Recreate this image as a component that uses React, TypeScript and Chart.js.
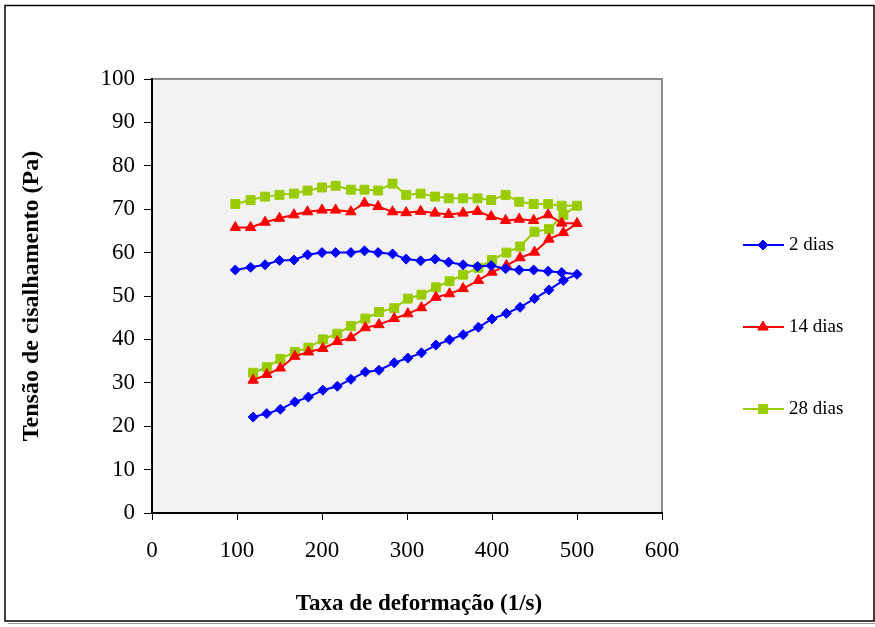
import React, { useEffect, useRef } from 'react';
import { Chart, registerables } from 'chart.js';

Chart.register(...registerables);

// Shear rate (1/s): ascending branch, then descending branch
const rateUp = [119, 135, 151, 168, 184, 201, 218, 234, 251, 267, 285, 301, 317, 334, 350, 366, 384, 400, 417, 433, 450, 467, 484, 500];
const rateDown = [482, 466, 449, 432, 416, 399, 383, 366, 349, 333, 316, 299, 283, 266, 250, 234, 216, 200, 183, 167, 150, 133, 116, 98];

// Shear stress (Pa)
const dias2Up = [22.1, 22.9, 23.9, 25.6, 26.7, 28.3, 29.2, 30.8, 32.5, 32.9, 34.6, 35.7, 36.9, 38.7, 39.9, 41.1, 42.8, 44.7, 46.0, 47.4, 49.4, 51.4, 53.6, 55.0];
const dias2Down = [55.4, 55.7, 56.0, 56.0, 56.3, 57.0, 56.8, 57.2, 57.8, 58.5, 58.1, 58.5, 59.7, 60.0, 60.4, 60.0, 60.0, 60.0, 59.5, 58.3, 58.2, 57.2, 56.6, 56.0];

const dias14Up = [30.6, 31.9, 33.4, 36.1, 37.1, 37.9, 39.5, 40.4, 42.7, 43.4, 44.8, 45.9, 47.3, 49.7, 50.5, 51.7, 53.6, 55.5, 57.0, 58.8, 60.1, 63.1, 64.6, 66.7];
const dias14Down = [66.8, 68.7, 67.4, 67.7, 67.4, 68.3, 69.5, 69.1, 68.8, 69.1, 69.5, 69.2, 69.4, 70.6, 71.4, 69.4, 69.8, 69.8, 69.4, 68.7, 67.9, 67.0, 65.8, 65.8];

const dias28Up = [32.3, 33.6, 35.5, 37.1, 38.1, 40.0, 41.3, 43.1, 44.8, 46.3, 47.2, 49.4, 50.3, 52.0, 53.4, 54.9, 56.5, 58.3, 60.0, 61.4, 64.8, 65.4, 68.7, 70.8];
const dias28Down = [70.8, 71.2, 71.2, 71.7, 73.3, 72.1, 72.5, 72.5, 72.5, 72.9, 73.6, 73.3, 75.9, 74.3, 74.5, 74.5, 75.4, 75.0, 74.3, 73.6, 73.3, 72.9, 72.1, 71.2];

const seriesNames = ['2 dias', '14 dias', '28 dias'];
const seriesColors = ['#0000FF', '#FF0000', '#99CC00'];
const seriesMarkers = ['rectRot', 'triangle', 'rect'];
const seriesRadius = [5, 6, 6.3];

const xTitle = 'Taxa de deformação (1/s)';
const yTitle = 'Tensão de cisalhamento (Pa)';

const FONT = "'Times New Roman', 'Liberation Serif', serif";

function loop(up: number[], down: number[]) {
  return rateUp.map((x, i) => ({ x, y: up[i] })).concat(rateDown.map((x, i) => ({ x, y: down[i] })));
}

function drawMarker(ctx: CanvasRenderingContext2D, style: string, x: number, y: number, r: number, color: string) {
  ctx.save();
  ctx.fillStyle = color;
  ctx.strokeStyle = color;
  ctx.lineWidth = 1;
  ctx.beginPath();
  if (style === 'rectRot') {
    ctx.moveTo(x - r, y);
    ctx.lineTo(x, y - r);
    ctx.lineTo(x + r, y);
    ctx.lineTo(x, y + r);
  } else if (style === 'triangle') {
    for (let k = 0; k < 3; k++) {
      const a = (k * 2 * Math.PI) / 3;
      const px = x + Math.sin(a) * r;
      const py = y - Math.cos(a) * r;
      if (k === 0) ctx.moveTo(px, py);
      else ctx.lineTo(px, py);
    }
  } else {
    const s = r * Math.SQRT1_2;
    ctx.rect(x - s, y - s, 2 * s, 2 * s);
  }
  ctx.closePath();
  ctx.fill();
  ctx.stroke();
  ctx.restore();
}

const framePlugin = {
  id: 'frame',
  beforeDraw(chart: any) {
    const { ctx, chartArea } = chart;
    const { left, top, right, bottom } = chartArea;
    ctx.save();
    ctx.fillStyle = '#FFFFFF';
    ctx.fillRect(0, 0, chart.width, chart.height);
    // outer border with shadow
    ctx.strokeStyle = '#9A9A9A';
    ctx.lineWidth = 1;
    ctx.beginPath();
    ctx.moveTo(8, 623.5);
    ctx.lineTo(875, 623.5);
    ctx.stroke();
    ctx.strokeStyle = '#000000';
    ctx.lineWidth = 1.5;
    ctx.strokeRect(5, 5.5, 869, 615.5);
    // plot area
    ctx.fillStyle = '#F2F2F2';
    ctx.fillRect(left, top, right - left, bottom - top);
    ctx.strokeStyle = '#8C8C8C';
    ctx.lineWidth = 2;
    ctx.strokeRect(left, top, right - left, bottom - top);
    ctx.restore();
  },
  afterDraw(chart: any) {
    const { ctx } = chart;
    ctx.save();
    // x axis title
    ctx.fillStyle = '#000';
    ctx.font = `bold 23px ${FONT}`;
    ctx.textAlign = 'center';
    ctx.textBaseline = 'middle';
    ctx.fillText(xTitle, 419, 604);
    // legend
    const ys = [245, 327, 409];
    ctx.font = `19px ${FONT}`;
    ctx.textAlign = 'left';
    seriesNames.forEach((name, i) => {
      const y = ys[i];
      ctx.strokeStyle = seriesColors[i];
      ctx.lineWidth = 2;
      ctx.beginPath();
      ctx.moveTo(743, y);
      ctx.lineTo(784, y);
      ctx.stroke();
      drawMarker(ctx, seriesMarkers[i], 763, y, seriesRadius[i], seriesColors[i]);
      ctx.fillStyle = '#000';
      ctx.fillText(name, 789, y);
    });
    ctx.restore();
  },
};

export default function App() {
  const ref = useRef<HTMLCanvasElement | null>(null);

  useEffect(() => {
    document.body.style.margin = '0';
    const canvas = ref.current;
    if (!canvas) return;
    const tickFont = { family: FONT, size: 23 };
    const chart = new Chart(canvas, {
      type: 'scatter',
      data: {
        datasets: [
          { label: seriesNames[0], data: loop(dias2Up, dias2Down) },
          { label: seriesNames[1], data: loop(dias14Up, dias14Down) },
          { label: seriesNames[2], data: loop(dias28Up, dias28Down) },
        ].map((d, i) => ({
          ...d,
          showLine: true,
          borderColor: seriesColors[i],
          backgroundColor: seriesColors[i],
          borderWidth: 2,
          tension: 0,
          pointStyle: seriesMarkers[i] as any,
          pointRadius: seriesRadius[i],
          pointBorderWidth: 1,
          pointBorderColor: seriesColors[i],
          pointBackgroundColor: seriesColors[i],
        })),
      },
      options: {
        animation: false,
        responsive: false,
        devicePixelRatio: 1,
        layout: { padding: { left: 0, top: 79, right: 213, bottom: 0 } },
        plugins: { legend: { display: false }, tooltip: { enabled: false } },
        scales: {
          x: {
            type: 'linear',
            min: 0,
            max: 600,
            ticks: { stepSize: 100, font: tickFont, color: '#000', padding: 17, maxRotation: 0 },
            grid: { display: true, drawOnChartArea: false, drawTicks: true, tickLength: 7, color: '#000', lineWidth: 1 },
            border: { display: true, color: '#000', width: 2 },
            afterFit: (s: any) => { s.height = 114; },
          },
          y: {
            type: 'linear',
            min: 0,
            max: 100,
            ticks: { stepSize: 10, font: tickFont, color: '#000', padding: 9 },
            grid: { display: true, drawOnChartArea: false, drawTicks: true, tickLength: 8, color: '#000', lineWidth: 1 },
            border: { display: true, color: '#000', width: 2 },
            title: {
              display: true,
              text: yTitle,
              color: '#000',
              font: { family: FONT, size: 24, weight: 'bold' },
              padding: { top: 17, bottom: 0 },
            },
            afterFit: (s: any) => { s.width = 152; },
          },
        },
      },
      plugins: [framePlugin],
    });
    return () => chart.destroy();
  }, []);

  return <canvas ref={ref} width={875} height={627} style={{ display: 'block' }} />;
}
